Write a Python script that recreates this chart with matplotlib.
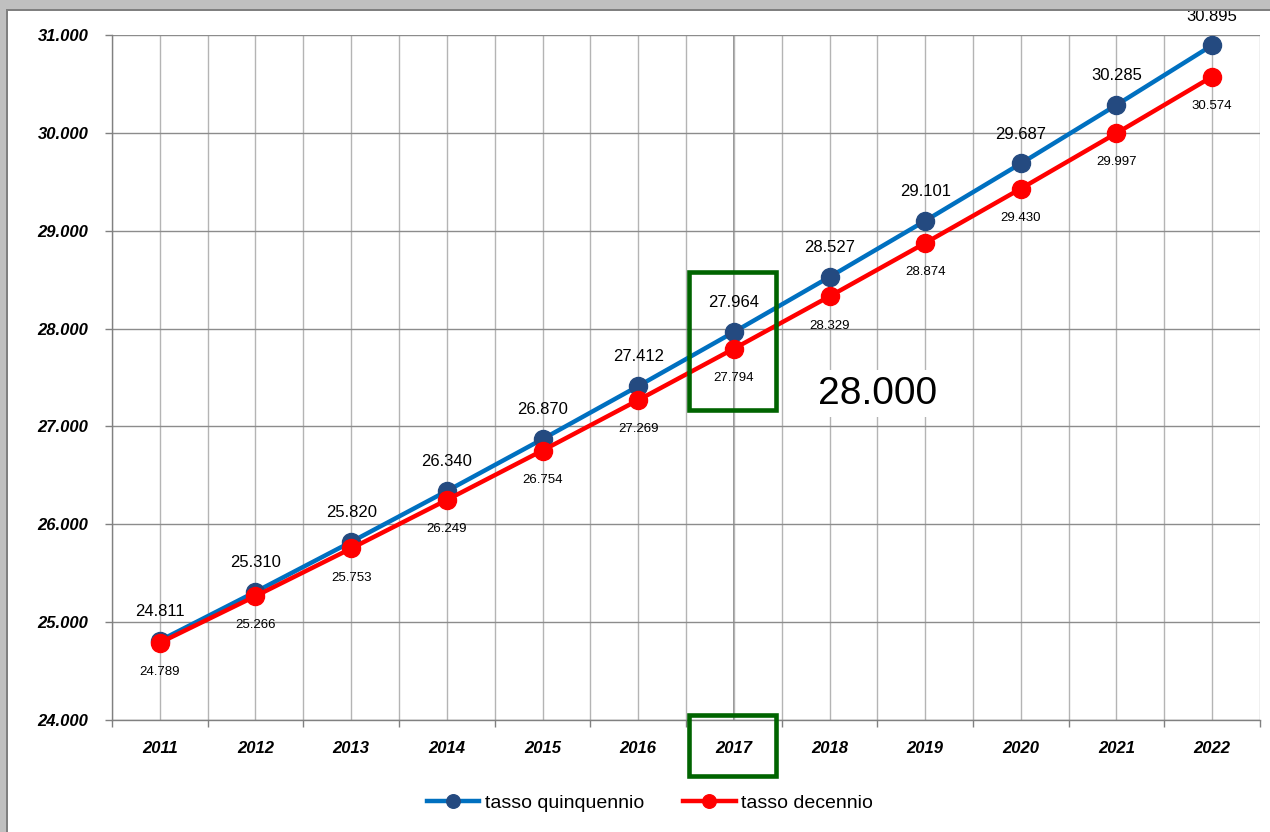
import matplotlib.pyplot as plt
import matplotlib.transforms as mtransforms
from matplotlib.patches import Rectangle

plt.rcParams['font.family'] = ['Liberation Sans', 'DejaVu Sans']

# dati
anni = ['2011', '2012', '2013', '2014', '2015', '2016',
        '2017', '2018', '2019', '2020', '2021', '2022']
tasso_quinquennio = [24811, 25310, 25820, 26340, 26870, 27412,
                     27964, 28527, 29101, 29687, 30285, 30895]
tasso_decennio = [24789, 25266, 25753, 26249, 26754, 27269,
                  27794, 28329, 28874, 29430, 29997, 30574]
y_ticks = [24000, 25000, 26000, 27000, 28000, 29000, 30000, 31000]
anno_evidenziato = '2017'
valore_evidenziato = '28.000'


def fmt(v):
    # separatore delle migliaia all'italiana
    return f'{v:,.0f}'.replace(',', '.')


fig = plt.figure(figsize=(12.7, 8.32), dpi=100)
fig.patch.set_facecolor('white')

# cornice grigia in alto e a sinistra
W, H = 1270.0, 832.0
fig.patches.append(Rectangle((0, 1 - 9 / H), 1, 9 / H, transform=fig.transFigure,
                             facecolor='#c0c0c0', edgecolor='none', zorder=0))
fig.patches.append(Rectangle((0, 1 - 11 / H), 1, 2 / H, transform=fig.transFigure,
                             facecolor='#808080', edgecolor='none', zorder=0))
fig.patches.append(Rectangle((0, 0), 6 / W, 1, transform=fig.transFigure,
                             facecolor='#c0c0c0', edgecolor='none', zorder=0))
fig.patches.append(Rectangle((6 / W, 0), 2 / W, 1 - 9 / H, transform=fig.transFigure,
                             facecolor='#808080', edgecolor='none', zorder=0))

ax = fig.add_axes([112 / W, 1 - 720 / H, (1260 - 112) / W, (720 - 35) / H])
x = list(range(len(anni)))

ax.plot(x, tasso_quinquennio, color='#0070c0', lw=3.2, marker='o', markersize=13,
        markerfacecolor='#244a80', markeredgecolor='#244a80',
        label='tasso quinquennio', zorder=4)
ax.plot(x, tasso_decennio, color='#ff0000', lw=3.2, marker='o', markersize=13,
        markerfacecolor='#ff0000', markeredgecolor='#ff0000',
        label='tasso decennio', zorder=5)

for xi, v in zip(x, tasso_quinquennio):
    ax.annotate(fmt(v), (xi, v), xytext=(0, 21), textcoords='offset points',
                ha='center', va='center', fontsize=12, color='black', zorder=6)
for xi, v in zip(x, tasso_decennio):
    ax.annotate(fmt(v), (xi, v), xytext=(0, -21), textcoords='offset points',
                ha='center', va='center', fontsize=9.5, color='black', zorder=6)

ax.set_xlim(-0.5, len(anni) - 0.5)
ax.set_ylim(24000, 31000)
ax.set_xticks(x)
ax.set_xticklabels(anni)
ax.set_xticks([i + 0.5 for i in range(-1, len(anni))], minor=True)
ax.set_yticks(y_ticks)
ax.set_yticklabels([fmt(v) for v in y_ticks])

for lab in ax.get_xticklabels() + ax.get_yticklabels():
    lab.set_fontweight('bold')
    lab.set_fontstyle('italic')
ax.tick_params(axis='x', which='major', length=0, pad=15, labelsize=12)
ax.tick_params(axis='x', which='minor', length=5, color='#808080', width=1)
ax.tick_params(axis='y', which='major', length=5, color='#808080', width=1,
               pad=12, labelsize=12)

ax.grid(True, axis='x', which='both', color='#b4b4b4', lw=1, zorder=0)
ax.grid(True, axis='y', which='major', color='#8c8c8c', lw=1, zorder=0)
for s in ['top', 'right']:
    ax.spines[s].set_visible(False)
for s in ['left', 'bottom']:
    ax.spines[s].set_color('#808080')
    ax.spines[s].set_linewidth(1)

# anno evidenziato: griglia più scura e riquadri verdi
i_ev = anni.index(anno_evidenziato)
ax.axvline(i_ev, color='#808080', lw=1.2, zorder=1)
ax.add_patch(Rectangle((i_ev - 0.47, 27168), 0.91, 28578 - 27168, fill=False,
                       edgecolor='#006400', lw=3.3, zorder=7))
trans = mtransforms.blended_transform_factory(ax.transData, ax.transAxes)
ax.add_patch(Rectangle((i_ev - 0.47, -0.0818), 0.91, 0.0891, fill=False,
                       edgecolor='#006400', lw=3.3, transform=trans,
                       clip_on=False, zorder=7))

ax.text(i_ev + 1.5, 27335, valore_evidenziato, fontsize=28, ha='center',
        va='center', color='black', zorder=6,
        bbox=dict(facecolor='white', edgecolor='none', pad=4))

fig.legend(loc='center', bbox_to_anchor=(650 / W, 29 / H), ncol=2, frameon=False,
           fontsize=14, handlelength=2.7, handletextpad=0.3, columnspacing=2.0,
           markerscale=0.75)

fig.savefig('out.png', dpi=100)
